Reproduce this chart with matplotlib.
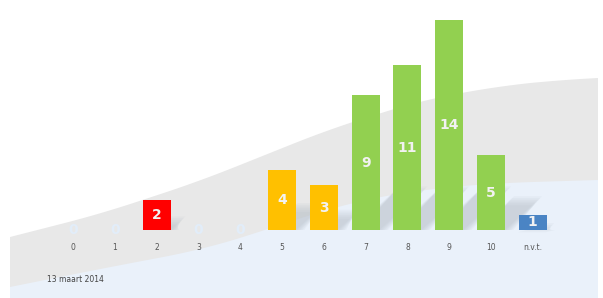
import matplotlib
matplotlib.use("Agg")
import matplotlib.pyplot as plt
import numpy as np
from matplotlib.patches import Polygon

# gegevens (aantal per cijfer)
categories = ["0", "1", "2", "3", "4", "5", "6", "7", "8", "9", "10", "n.v.t."]
counts = [0, 0, 2, 0, 0, 4, 3, 9, 11, 14, 5, 1]
bar_colors = ["#FF0000", "#FF0000", "#FF0000", "#FF0000", "#FF0000",
              "#FFC000", "#FFC000",
              "#92D050", "#92D050", "#92D050", "#92D050",
              "#4A84C4"]
date_label = "13 maart 2014"

W, H = 603, 298
fig = plt.figure(figsize=(W / 100, H / 100), dpi=100)

# achtergrond in pixelcoordinaten
bg = fig.add_axes([0, 0, 1, 1])
bg.set_xlim(0, W)
bg.set_ylim(H, 0)
bg.axis("off")


def smooth(pts, n=400, k=25):
    pts = np.array(pts, dtype=float)
    xs = np.linspace(pts[0, 0], pts[-1, 0], n)
    ys = np.interp(xs, pts[:, 0], pts[:, 1])
    pad = np.concatenate([np.full(k, ys[0]) + (ys[0] - ys[1]) * np.arange(k, 0, -1),
                          ys,
                          np.full(k, ys[-1]) + (ys[-1] - ys[-2]) * np.arange(1, k + 1)])
    ys = np.convolve(pad, np.ones(2 * k + 1) / (2 * k + 1), mode="valid")
    return xs, ys


grey_top = [(10, 237), (100, 214), (200, 181), (300, 141), (330, 129), (423, 100),
            (500, 86), (560, 80), (598, 78)]
blue_top = [(10, 287), (100, 269), (200, 250), (260, 232), (300, 218), (350, 203),
            (400, 193), (450, 187), (500, 183), (598, 180)]

gx, gy = smooth(grey_top)
bx, by = smooth(blue_top)

grey_poly = np.vstack([np.column_stack([gx, gy]), [[598, H], [10, H]]])
blue_poly = np.vstack([np.column_stack([bx, by]), [[598, H], [10, H]]])
bg.add_patch(Polygon(grey_poly, closed=True, facecolor="#E8E8E8", edgecolor="none"))
bg.add_patch(Polygon(blue_poly, closed=True, facecolor="#EAF1FA", edgecolor="none"))

# staafdiagram
ax = fig.add_axes([0, 0, 1, 1])
ax.patch.set_alpha(0)
step = 41.8
x0 = 73
base = 230
unit = 15
ax.set_xlim(-x0 / step, (W - x0) / step)
ax.set_ylim(-(H - base) / unit, base / unit)
ax.axis("off")

x = np.arange(len(categories))
width = 0.67

# zachte schaduwen achter de staven
for xi, v in zip(x, counts):
    if v == 0:
        continue
    L = min(v * 0.45, 2.9)
    sx = L * unit / step * 1.1
    for j in range(6):
        sh = j * 0.04
        poly = [(xi - width / 2 + sh, 0), (xi + width / 2 + sh, 0),
                (xi + width / 2 + sx - sh, L - j * 0.12),
                (xi - width / 2 + sx - sh, L - j * 0.12)]
        ax.add_patch(Polygon(poly, closed=True, facecolor="#A9B2BC",
                             edgecolor="none", alpha=0.09, zorder=1))

ax.bar(x, counts, width=width, color=bar_colors, zorder=2)

for xi, v in zip(x, counts):
    if v == 0:
        ax.text(xi, 0, "0", ha="center", va="center", fontsize=10,
                fontweight="bold", color="#E2EDF9", zorder=3)
    else:
        ax.text(xi, v / 2, str(v), ha="center", va="center", fontsize=10,
                fontweight="bold", color="#F2F2F2", zorder=3)
    ax.text(xi, -17 / unit, categories[xi], ha="center", va="center",
            fontsize=5.5, color="#555555", zorder=3)

fig.text(47 / W, 1 - 280 / H, date_label, ha="left", va="center",
         fontsize=5.5, color="#444444")

fig.savefig("out.png", dpi=100)
